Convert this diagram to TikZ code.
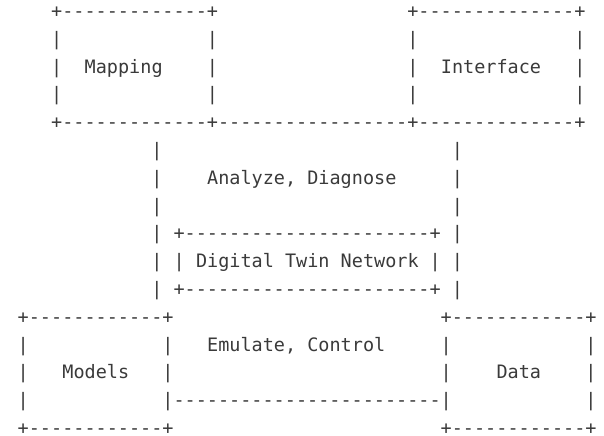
\documentclass[tikz,border=0pt]{standalone}
\usepackage{fontspec}
\newfontfamily\asciifont{DejaVu Sans Mono}
\definecolor{ink}{RGB}{58,58,58}
\tikzset{
  glyph/.style={anchor=base, inner sep=0pt, text=ink},
  txt/.style={anchor=base west, inner sep=0pt, text=ink}
}
\newcommand\asciidashes[3]{% row, first col, last col
  \foreach \cc in {#2,...,#3} {\node[glyph] at (\cc,#1) {-};}}
\newcommand\asciipipes[3]{% col, first row, last row
  \foreach \rr in {#2,...,#3} {\node[glyph] at (#1,\rr) {|};}}
\newcommand\asciibox[4]{% left col, top row, right col, bottom row
  \pgfmathtruncatemacro\bxa{#1+1}\pgfmathtruncatemacro\bxb{#3-1}
  \pgfmathtruncatemacro\bya{#2+1}\pgfmathtruncatemacro\byb{#4-1}
  \foreach \cc in {#1,#3} {\foreach \rr in {#2,#4} {\node[glyph] at (\cc,\rr) {+};}}
  \asciidashes{#2}{\bxa}{\bxb}\asciidashes{#4}{\bxa}{\bxb}
  \asciipipes{#1}{\bya}{\byb}\asciipipes{#3}{\bya}{\byb}}

\begin{document}
\begin{tikzpicture}[x=11.13pt, y=-27.8pt, font=\asciifont\fontsize{18.49pt}{27.8pt}\selectfont]
\useasboundingbox (-2.093,0.3705) rectangle (52.17,16.018);
% upper boxes
\asciibox{3}{1}{17}{5}
\asciibox{35}{1}{50}{5}
\asciidashes{5}{18}{34}
\node[txt] (mapping) at (5.5,3) {Mapping};
\node[txt] (interface) at (37.5,3) {Interface};
% twin network in the middle
\asciipipes{12}{6}{11}
\asciipipes{39}{6}{11}
\node[txt] (analyze) at (16.5,7) {Analyze, Diagnose};
\asciibox{14}{9}{37}{11}
\node[txt] (twin) at (15.5,10) {Digital Twin Network};
% lower boxes
\asciibox{0}{12}{13}{16}
\asciibox{38}{12}{51}{16}
\asciidashes{15}{14}{37}
\node[txt] (emulate) at (16.5,13) {Emulate, Control};
\node[txt] (models) at (3.5,14) {Models};
\node[txt] (data) at (42.5,14) {Data};
\end{tikzpicture}
\end{document}
